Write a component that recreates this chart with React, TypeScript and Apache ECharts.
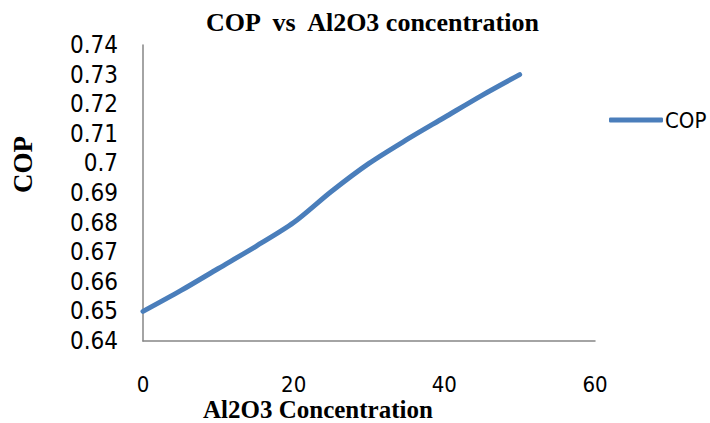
import React, { useEffect, useRef } from "react";
import * as echarts from "echarts";

const concentration = [0, 5, 10, 15, 20, 25, 30, 35, 40, 45, 50];
const cop = [0.65, 0.657, 0.6645, 0.672, 0.68, 0.6905, 0.7, 0.708, 0.7155, 0.723, 0.73];
const seriesName = "COP";
const chartTitle = "COP  vs  Al2O3 concentration";
const xName = "Al2O3 Concentration";
const yName = "COP";

export default function App() {
  const ref = useRef<HTMLDivElement>(null);
  useEffect(() => {
    document.body.style.margin = "0";
    const chart = echarts.init(ref.current!, undefined, { renderer: "svg" });
    const narrow = "'Liberation Sans Narrow', 'DejaVu Sans Condensed', 'Arial Narrow', sans-serif";
    const serif = "'Liberation Serif', 'Times New Roman', serif";
    chart.setOption({
      animation: false,
      backgroundColor: "#ffffff",
      grid: { left: 143, right: 115, top: 45, bottom: 82, containLabel: false },
      xAxis: {
        type: "value",
        min: 0,
        max: 60,
        interval: 20,
        axisLine: { show: true, lineStyle: { color: "#868686", width: 1.5 } },
        axisTick: { show: false },
        splitLine: { show: false },
        axisLabel: { margin: 32, fontSize: 22, lineHeight: 22, fontFamily: narrow, color: "#000" },
      },
      yAxis: {
        type: "value",
        min: 0.64,
        max: 0.74,
        interval: 0.01,
        axisLine: { show: true, lineStyle: { color: "#868686", width: 1.5 } },
        axisTick: { show: false },
        splitLine: { show: false },
        axisLabel: {
          margin: 25,
          fontSize: 24,
          fontFamily: narrow,
          color: "#000",
          formatter: (v: number) => String(parseFloat(v.toFixed(2))),
        },
      },
      legend: {
        data: [{ name: seriesName, icon: "roundRect" }],
        left: 604,
        top: 104,
        itemWidth: 54,
        itemHeight: 5,
        itemStyle: { color: "#4a7ebb" },
        textStyle: { fontSize: 22, fontFamily: narrow, color: "#000", padding: [0, 0, 0, -3] },
      },
      series: [
        {
          name: seriesName,
          type: "line",
          data: concentration.map((x, i) => [x, cop[i]]),
          smooth: 0.3,
          symbol: "none",
          lineStyle: { color: "#4a7ebb", width: 5, cap: "round" },
          itemStyle: { color: "#4a7ebb" },
        },
      ],
      graphic: [
        {
          type: "text",
          left: 206,
          top: 9,
          style: { text: chartTitle, font: `bold 26px ${serif}`, fill: "#000" },
        },
        {
          type: "text",
          left: 203,
          top: 397,
          style: { text: xName, font: `bold 25px ${serif}`, lineHeight: 25, fill: "#000" },
        },
        {
          type: "text",
          x: 9,
          y: 193,
          rotation: Math.PI / 2,
          style: { text: yName, font: `bold 27px ${serif}`, fill: "#000" },
        },
      ],
    });
    return () => chart.dispose();
  }, []);
  return <div ref={ref} style={{ width: 710, height: 423 }} />;
}
